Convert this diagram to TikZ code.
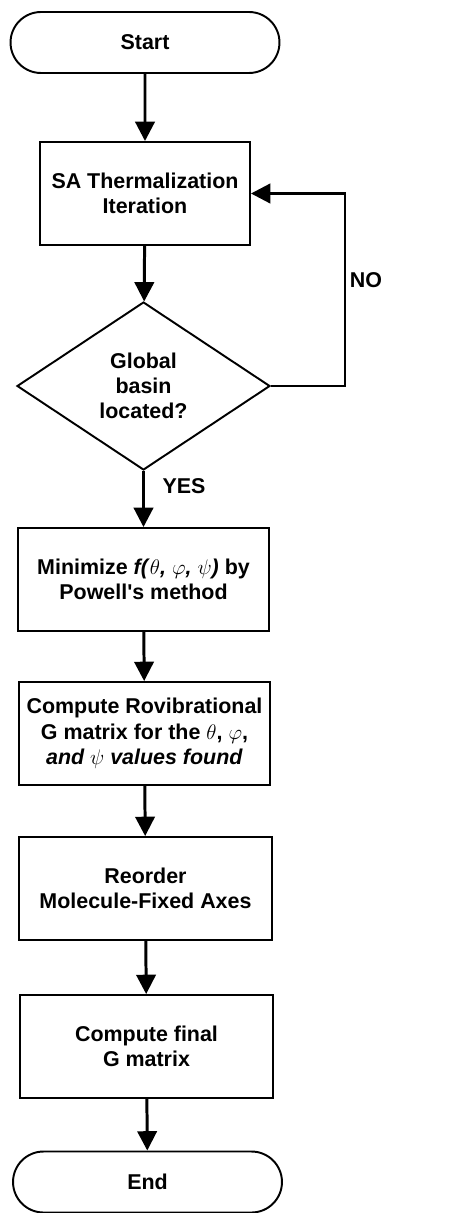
\documentclass[tikz,border=0pt]{standalone}
\usepackage{fontspec}
\setmainfont{Liberation Sans}
\usetikzlibrary{shapes.geometric,shapes.misc,arrows.meta}

\tikzset{
  term/.style={draw,line width=1.1pt,rounded rectangle,minimum width=5.38cm,minimum height=1.22cm,inner sep=0pt,font=\fontsize{12.2}{14.4}\selectfont\bfseries},
  proc/.style={draw,line width=1.1pt,minimum height=2.06cm,inner sep=0pt,align=center,font=\fontsize{12.2}{14.4}\selectfont\bfseries},
  decide/.style={draw,line width=1.1pt,diamond,minimum width=5.06cm,minimum height=3.36cm,inner sep=0pt,align=center,font=\fontsize{12.2}{14.4}\selectfont\bfseries},
  flow/.style={line width=1.7pt,-{Triangle[width=11pt,length=11pt]}},
  lbl/.style={font=\fontsize{12.2}{14.4}\selectfont\bfseries}
}

\begin{document}
\begin{tikzpicture}[x=0.02cm,y=-0.02cm]
\useasboundingbox (0,0) rectangle (451,1213);
% boxes
\node[term] (start) at (145,42.5) {Start};
\node[proc,minimum width=4.2cm] (therm) at (145,193.5) {SA Thermalization\\Iteration};
\node[decide] (basin) at (143.5,386) {Global\\basin\\located?};
\node[proc,minimum width=5.02cm] (powell) at (143.5,579.5) {Minimize \textit{f(}$\theta$\textit{, }$\varphi$\textit{, }$\psi$\textit{)} by\\Powell\textquotesingle s method};
\node[proc,minimum width=5.02cm] (rovib) at (144.5,733.5) {Compute Rovibrational\\G matrix for the $\theta$, $\varphi$,\\\textit{and $\psi$ values found}};
\node[proc,minimum width=5.06cm] (reorder) at (145.5,888.5) {Reorder\\Molecule-Fixed Axes};
\node[proc,minimum width=5.06cm] (final) at (146.5,1046.5) {Compute final\\G matrix};
\node[term] (stop) at (147.5,1182) {End};
\coordinate (loopx) at (345,0);
% labels
\node[lbl] (no) at (366,280) {NO};
\node[lbl] (yes) at (184,486) {YES};
% arrows
\draw[flow] (start) -- (therm);
\draw[flow] (therm) -- (basin);
\draw[flow] (basin.east) -- (basin.east -| loopx) |- (therm.east);
\draw[flow] (basin) -- (powell);
\draw[flow] (powell) -- (rovib);
\draw[flow] (rovib) -- (reorder);
\draw[flow] (reorder) -- (final);
\draw[flow] (final) -- (stop);
\end{tikzpicture}
\end{document}
